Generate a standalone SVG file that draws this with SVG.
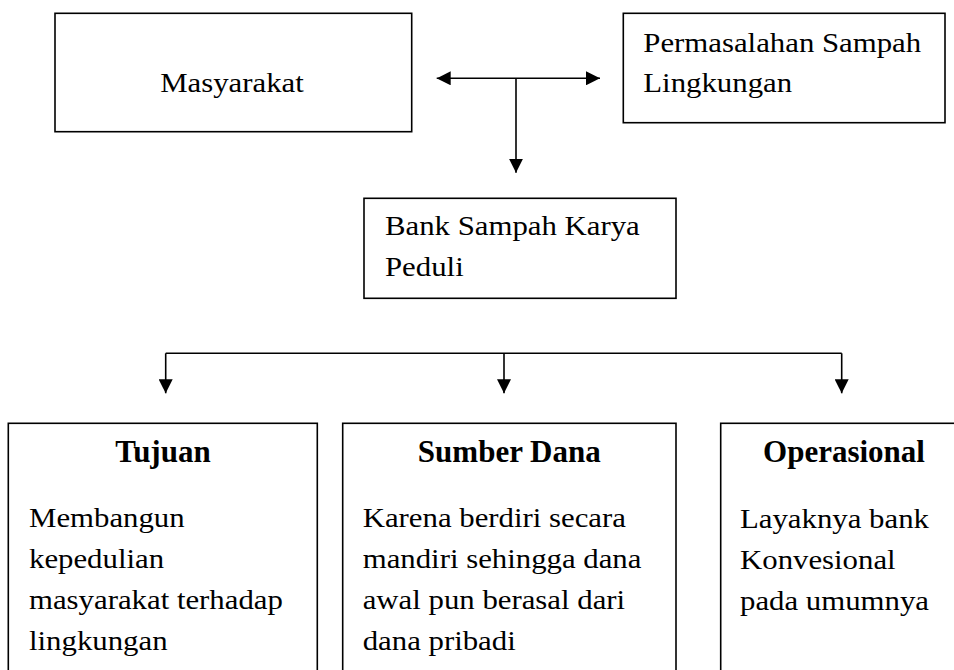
<svg xmlns="http://www.w3.org/2000/svg" width="954" height="670" viewBox="0 0 954 670">
<style>
.box{fill:#fff;stroke:#000;stroke-width:1.6}
.ln{fill:none;stroke:#000;stroke-width:1.6}
.t{font-family:"Liberation Serif","Times New Roman",serif;font-size:28px;fill:#000}
.b{font-family:"Liberation Serif","Times New Roman",serif;font-size:31px;font-weight:bold;fill:#000;text-anchor:middle}
</style>
<defs>
<marker id="ah" markerUnits="userSpaceOnUse" viewBox="0 0 14 14" markerWidth="14" markerHeight="14" refX="14" refY="7" orient="auto">
<path d="M0,0 L14,7 L0,14 z" fill="#000"/>
</marker>
</defs>
<rect width="954" height="670" fill="#fff"/>
<g id="masyarakat">
<rect class="box" x="55" y="13.3" width="356.7" height="118.4"/>
<text class="t" text-anchor="middle" transform="translate(232 92) scale(1.1 1)">Masyarakat</text>
</g>
<g id="permasalahan">
<rect class="box" x="623.3" y="13.3" width="321.7" height="109.4"/>
<text class="t" transform="translate(643.3 52.3) scale(1.1 1)">Permasalahan Sampah</text>
<text class="t" transform="translate(643.3 91.7) scale(1.1 1)">Lingkungan</text>
</g>
<g id="bank">
<rect class="box" x="364" y="198.3" width="312" height="100"/>
<text class="t" transform="translate(385 235) scale(1.1 1)">Bank Sampah Karya</text>
<text class="t" transform="translate(385 276) scale(1.1 1)">Peduli</text>
</g>
<g id="tujuan">
<rect class="box" x="8.3" y="423.3" width="309" height="270"/>
<text class="b" x="163" y="461.5">Tujuan</text>
<text class="t" transform="translate(29 527) scale(1.1 1)">Membangun</text>
<text class="t" transform="translate(29 568) scale(1.1 1)">kepedulian</text>
<text class="t" transform="translate(29 609) scale(1.1 1)">masyarakat terhadap</text>
<text class="t" transform="translate(29 650) scale(1.1 1)">lingkungan</text>
</g>
<g id="sumberdana">
<rect class="box" x="342.7" y="423.3" width="333.3" height="270"/>
<text class="b" x="509.3" y="461.5">Sumber Dana</text>
<text class="t" transform="translate(362.7 527) scale(1.1 1)">Karena berdiri secara</text>
<text class="t" transform="translate(362.7 568) scale(1.1 1)">mandiri sehingga dana</text>
<text class="t" transform="translate(362.7 609) scale(1.1 1)">awal pun berasal dari</text>
<text class="t" transform="translate(362.7 650) scale(1.1 1)">dana pribadi</text>
</g>
<g id="operasional">
<rect class="box" x="720.7" y="423.3" width="270" height="270"/>
<text class="b" x="844" y="461.5">Operasional</text>
<text class="t" transform="translate(740 528) scale(1.1 1)">Layaknya bank</text>
<text class="t" transform="translate(740 569) scale(1.1 1)">Konvesional</text>
<text class="t" transform="translate(740 610) scale(1.1 1)">pada umumnya</text>
</g>
<g id="connectors">
<line class="ln" x1="516" y1="78.3" x2="436.7" y2="78.3" marker-end="url(#ah)"/>
<line class="ln" x1="516" y1="78.3" x2="600" y2="78.3" marker-end="url(#ah)"/>
<line class="ln" x1="516" y1="78.3" x2="516" y2="172.7" marker-end="url(#ah)"/>
<line class="ln" x1="165.7" y1="353.3" x2="841.7" y2="353.3"/>
<line class="ln" x1="165.7" y1="353.3" x2="165.7" y2="393.3" marker-end="url(#ah)"/>
<line class="ln" x1="504" y1="353.3" x2="504" y2="393.3" marker-end="url(#ah)"/>
<line class="ln" x1="841.7" y1="353.3" x2="841.7" y2="393.3" marker-end="url(#ah)"/>
</g>
</svg>
